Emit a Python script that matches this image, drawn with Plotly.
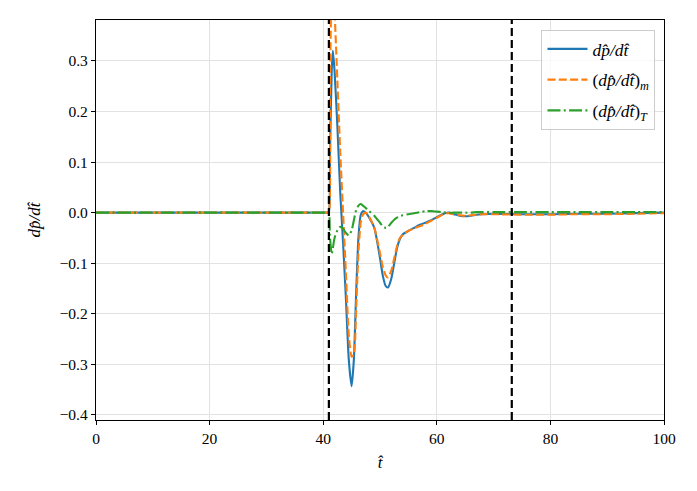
import plotly.graph_objects as go

# time samples
t = [0, 20, 40, 40.8, 41.0, 41.2, 41.5, 41.7, 42.0, 42.5, 43.0, 43.5, 44.0, 44.5, 45.0,
     45.4, 45.8, 46.2, 46.6, 47.0, 47.5, 48.0, 49.0, 50.0, 50.5, 51.0, 51.4, 52.0, 52.5,
     53.0, 53.5, 54.0, 55.0, 56.0, 57.0, 58.0, 59.0, 60.0, 61.0, 62.0, 63.0, 64.0, 65.0,
     66.0, 67.0, 68.0, 70.0, 75.0, 80.0, 85.0, 90.0, 95.0, 100.0]

dpdt = [0, 0, 0, 0, 0.0, 0.12, 0.28, 0.32, 0.28, 0.17, 0.04, -0.06, -0.17, -0.29, -0.343,
        -0.29, -0.16, -0.05, -0.005, 0.003, 0.0, -0.008, -0.03, -0.09, -0.125, -0.145, -0.148, -0.13, -0.10,
        -0.07, -0.052, -0.043, -0.036, -0.03, -0.024, -0.02, -0.015, -0.009, -0.003, 0.0, -0.003, -0.006, -0.007,
        -0.006, -0.004, -0.003, -0.002, -0.003, -0.003, -0.002, -0.002, -0.001, 0.0]

dpdt_m = [0, 0, 0, 0, 0.0, 0.25, 0.45, 0.47, 0.40, 0.26, 0.12, 0.0, -0.12, -0.24, -0.285,
          -0.28, -0.19, -0.08, -0.02, -0.004, 0.0, -0.006, -0.03, -0.08, -0.108, -0.124, -0.128, -0.114, -0.09,
          -0.066, -0.05, -0.044, -0.036, -0.031, -0.027, -0.022, -0.016, -0.01, -0.004, -0.001, -0.003, -0.005, -0.006,
          -0.005, -0.004, -0.003, -0.003, -0.004, -0.004, -0.003, -0.003, -0.002, -0.001]

dpdt_T = [0, 0, 0, 0, 0.0, -0.05, -0.082, -0.07, -0.05, -0.035, -0.028, -0.032, -0.04, -0.045, -0.035,
          -0.015, 0.005, 0.014, 0.017, 0.014, 0.009, 0.004, -0.006, -0.02, -0.027, -0.03, -0.028, -0.02, -0.014,
          -0.01, -0.007, -0.005, -0.003, -0.001, 0.001, 0.003, 0.003, 0.002, 0.001, 0.0, 0.0, 0.0, 0.0,
          0.0, 0.001, 0.001, 0.001, 0.001, 0.001, 0.001, 0.001, 0.001, 0.001]

event_times = [41.0, 73.2]

x_ticks = [0, 20, 40, 60, 80, 100]
y_ticks = [-0.4, -0.3, -0.2, -0.1, 0.0, 0.1, 0.2, 0.3]
y_ticktext = [("\u2212" if v < 0 else "") + f"{abs(v):.1f}" for v in y_ticks]

FONT = "Liberation Serif, DejaVu Serif, serif"

fig = go.Figure()
fig.add_trace(go.Scatter(x=t, y=dpdt, mode="lines", name="<i>dp̂/dt̂</i>", legendgroup="a",
                         line=dict(color="#1f77b4", width=2.1, shape="spline", smoothing=0.6)))
fig.add_trace(go.Scatter(x=t, y=dpdt_m, mode="lines", name="(<i>dp̂/dt̂</i>)<sub><i>m</i></sub>", legendgroup="b",
                         line=dict(color="#ff7f0e", width=2.1, dash="8px,3.3px", shape="spline", smoothing=0.6)))
fig.add_trace(go.Scatter(x=t, y=dpdt_T, mode="lines", name="(<i>dp̂/dt̂</i>)<sub><i>T</i></sub>", legendgroup="c",
                         line=dict(color="#2ca02c", width=2.1, dash="13px,3.3px,2px,3.3px", shape="spline", smoothing=0.6)))

for xv in event_times:
    fig.add_vline(x=xv, line=dict(color="black", width=2.2, dash="8px,4px"))

axis_common = dict(showline=True, linecolor="black", linewidth=1.3, mirror=True,
                   ticks="outside", ticklen=4, tickcolor="black", tickwidth=1,
                   showgrid=True, gridcolor="#e2e2e2", gridwidth=1, zeroline=False,
                   tickfont=dict(family=FONT, size=15.5, color="black"))

fig.update_xaxes(range=[0, 100], tickvals=x_ticks, ticktext=[str(v) for v in x_ticks],
                 title=dict(text="<i>t̂</i>", font=dict(family=FONT, size=17, color="black"), standoff=10),
                 **axis_common)
fig.update_yaxes(range=[-0.41, 0.381], tickvals=y_ticks, ticktext=y_ticktext,
                 title=dict(text="<i>dp̂/dt̂</i>", font=dict(family=FONT, size=17, color="black"), standoff=14),
                 **axis_common)

fig.update_layout(
    width=697, height=491,
    margin=dict(l=88, r=41, t=12, b=79),
    paper_bgcolor="white", plot_bgcolor="white",
    showlegend=True,
    legend=dict(x=0.985, y=0.975, xanchor="right", yanchor="top",
                bgcolor="rgba(255,255,255,0.8)", bordercolor="#cccccc", borderwidth=1,
                itemwidth=40,
                font=dict(family=FONT, size=17.5, color="black"), tracegroupgap=5),
)

fig.write_html("out.html")
